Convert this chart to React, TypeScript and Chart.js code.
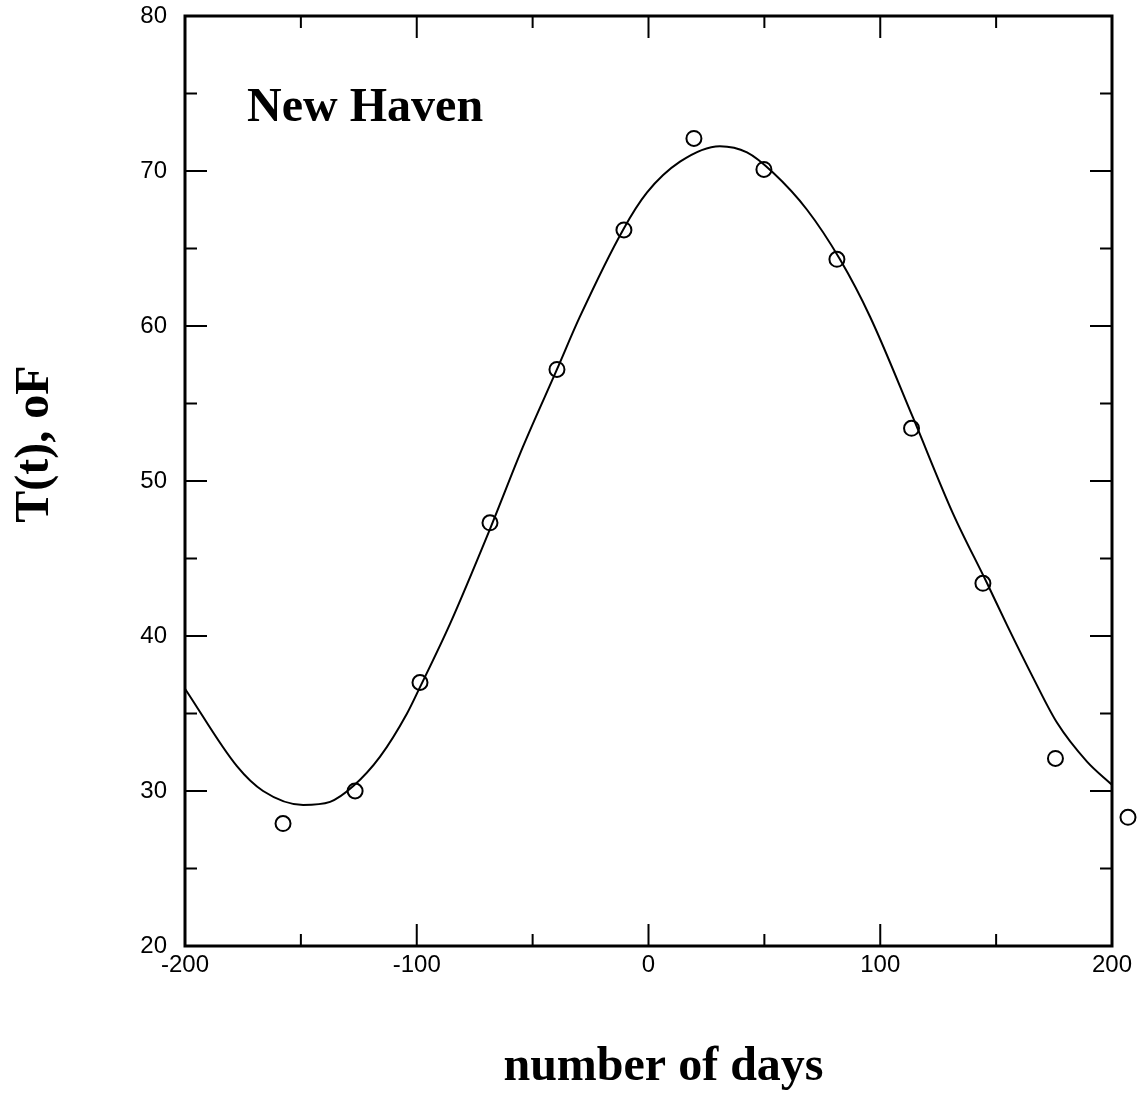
import React, { useEffect, useRef } from "react";
import { Chart, registerables } from "chart.js";

Chart.register(...registerables);

// Observed monthly mean temperatures (circles)
const obsDays = [-157.7, -126.6, -98.6, -68.4, -39.5, -10.6, 19.6, 49.8, 81.3, 113.5, 144.3, 175.6, 206.9];
const obsTemps = [27.9, 30.0, 37.0, 47.3, 57.2, 66.2, 72.1, 70.1, 64.3, 53.4, 43.4, 32.1, 28.3];

// Fitted curve (solid line)
const fitDays = [-200, -177.6, -166.3, -149, -137.4, -127.5, -115.9, -104.2, -98.6, -85.6, -68.4, -54.2, -39.5, -29.6, -11.0, -0.7, 13.6, 30.8, 42.5, 53.7, 68.4, 82.6, 95.6, 114.1, 131.4, 146.1, 154.7, 166, 176.3, 189.2, 200];
const fitTemps = [36.6, 31.6, 30.0, 29.1, 29.3, 30.3, 32.2, 35.0, 36.7, 40.8, 46.9, 52.2, 57.2, 60.6, 66.2, 68.6, 70.6, 71.6, 71.2, 69.9, 67.5, 64.3, 60.6, 54.1, 47.9, 43.4, 40.7, 37.3, 34.4, 31.9, 30.4];

// Axis ticks
const xTickLabels = [-200, -100, 0, 100, 200];
const yTickLabels = [20, 30, 40, 50, 60, 70, 80];
const xTickMarks = [-150, -100, -50, 0, 50, 100, 150];
const yTickMarks = [25, 30, 35, 40, 45, 50, 55, 60, 65, 70, 75];

const plotTitle = "New Haven";
const plotTitleAt = { x: -173.2, y: 73.2 };
const xTitle = "number of days";
const yTitle = "T(t), oF";

const X_MIN = -200;
const X_MAX = 200;

const framePlugin = {
  id: "frameAndText",
  afterDatasetsDraw(chart: any) {
    const { ctx, chartArea, scales } = chart;
    const { left, right, top, bottom } = chartArea;
    const xs = scales.x;
    const ys = scales.y;
    ctx.save();
    ctx.strokeStyle = "#000";
    ctx.lineWidth = 3;
    ctx.strokeRect(left, top, right - left, bottom - top);
    ctx.lineWidth = 2;
    ctx.beginPath();
    for (const v of xTickMarks) {
      const px = xs.getPixelForValue(v);
      const len = v % 100 === 0 ? 22 : 12;
      ctx.moveTo(px, bottom);
      ctx.lineTo(px, bottom - len);
      ctx.moveTo(px, top);
      ctx.lineTo(px, top + len);
    }
    for (const v of yTickMarks) {
      const py = ys.getPixelForValue(v);
      const len = v % 10 === 0 ? 22 : 12;
      ctx.moveTo(left, py);
      ctx.lineTo(left + len, py);
      ctx.moveTo(right, py);
      ctx.lineTo(right - len, py);
    }
    ctx.stroke();

    // observations that lie beyond the x range (Chart.js skips points outside the area)
    ctx.lineWidth = 2;
    obsDays.forEach((d, i) => {
      if (d < X_MIN || d > X_MAX) {
        ctx.beginPath();
        ctx.arc(xs.getPixelForValue(d), ys.getPixelForValue(obsTemps[i]), 7.5, 0, Math.PI * 2);
        ctx.stroke();
      }
    });

    ctx.fillStyle = "#000";
    ctx.font = "bold 48px 'Liberation Serif', serif";
    ctx.textAlign = "left";
    ctx.textBaseline = "alphabetic";
    ctx.fillText(plotTitle, xs.getPixelForValue(plotTitleAt.x), ys.getPixelForValue(plotTitleAt.y));

    ctx.textAlign = "center";
    ctx.fillText(xTitle, (left + right) / 2 + 15, bottom + 134);

    ctx.translate(left - 137, (top + bottom) / 2 - 37);
    ctx.rotate(-Math.PI / 2);
    ctx.fillText(yTitle, 0, 0);
    ctx.restore();
  },
};

export default function App() {
  const canvasRef = useRef<HTMLCanvasElement | null>(null);

  useEffect(() => {
    if (!canvasRef.current) return;
    const tickFont = { family: "'Liberation Sans', Arial, sans-serif", size: 24 };
    const obsPoints = obsDays.map((d, i) => ({ x: d, y: obsTemps[i] }));
    const chart = new Chart(canvasRef.current, {
      type: "scatter",
      data: {
        datasets: [
          {
            type: "line",
            label: "fit",
            data: fitDays.map((d, i) => ({ x: d, y: fitTemps[i] })),
            borderColor: "#000",
            borderWidth: 2,
            pointRadius: 0,
            fill: false,
            cubicInterpolationMode: "monotone",
          } as any,
          {
            label: "observed",
            data: obsPoints,
            pointStyle: "circle",
            pointRadius: 7.5,
            borderWidth: 2,
            borderColor: "#000",
            backgroundColor: "rgba(0,0,0,0)",
            clip: false,
          } as any,
        ],
      },
      options: {
        animation: false,
        responsive: false,
        devicePixelRatio: 1,
        layout: { padding: { left: 0, top: 16, right: 29, bottom: 0 } },
        plugins: { legend: { display: false }, tooltip: { enabled: false } },
        scales: {
          x: {
            type: "linear",
            min: X_MIN,
            max: X_MAX,
            afterFit: (s: any) => {
              s.height = 158;
              s.paddingLeft = 0;
              s.paddingRight = 0;
            },
            afterBuildTicks: (s: any) => {
              s.ticks = xTickLabels.map((v) => ({ value: v }));
            },
            grid: { display: false, drawTicks: false },
            border: { display: false },
            ticks: { padding: 5, font: tickFont, color: "#000", maxRotation: 0, autoSkip: false },
          },
          y: {
            type: "linear",
            min: 20,
            max: 80,
            afterFit: (s: any) => {
              s.width = 185;
              s.paddingTop = 0;
              s.paddingBottom = 0;
            },
            afterBuildTicks: (s: any) => {
              s.ticks = yTickLabels.map((v) => ({ value: v }));
            },
            grid: { display: false, drawTicks: false },
            border: { display: false },
            ticks: { padding: 18, font: tickFont, color: "#000", autoSkip: false },
          },
        },
      } as any,
      plugins: [framePlugin],
    });
    return () => chart.destroy();
  }, []);

  return (
    <div style={{ position: "absolute", left: 0, top: 0, width: 1141, height: 1104, background: "#fff" }}>
      <canvas ref={canvasRef} width={1141} height={1104} />
    </div>
  );
}
